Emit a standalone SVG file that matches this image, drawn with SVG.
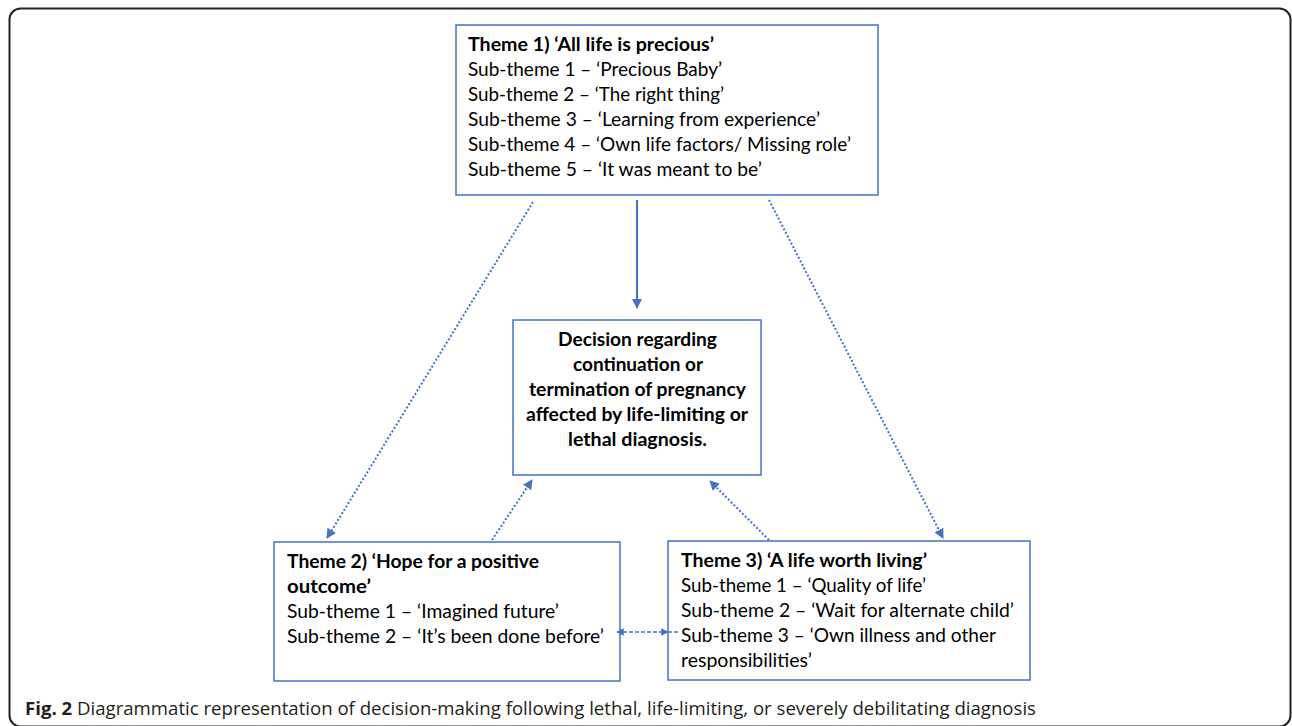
<svg xmlns="http://www.w3.org/2000/svg" width="1292" height="726" viewBox="0 0 1292 726">
<defs>
<style>
.box{fill:#fff;stroke:#4472C4;stroke-width:1.5}
.t{font-family:Lato,"Open Sans",sans-serif;font-size:18.5px;fill:#000}
.b{font-weight:bold}
.c{text-anchor:middle}
.cap{font-family:"Open Sans",sans-serif;font-size:18px;fill:#231f20}
.solid{stroke:#4472C4;stroke-width:2;fill:none}
.dot{stroke:#4472C4;stroke-width:2;fill:none;stroke-dasharray:2 2}
.dash{stroke:#4472C4;stroke-width:1.5;fill:none;stroke-dasharray:4 2}
</style>
<marker id="ah" viewBox="0 0 10 10" refX="9" refY="5" markerWidth="5" markerHeight="5" orient="auto-start-reverse" markerUnits="strokeWidth">
<path d="M0,0 L10,5 L0,10 z" fill="#4472C4"/>
</marker>
</defs>
<rect x="0" y="0" width="1292" height="726" fill="#fff"/>
<rect x="9.5" y="8.5" width="1281" height="718" rx="11" fill="none" stroke="#222" stroke-width="2"/>

<g id="theme1">
<rect class="box" x="456" y="25" width="422" height="170"/>
<text class="t b" x="468" y="51" textLength="246" lengthAdjust="spacingAndGlyphs">Theme 1) ‘All life is precious’</text>
<text class="t" x="468" y="76" textLength="254" lengthAdjust="spacingAndGlyphs">Sub-theme 1 – ‘Precious Baby’</text>
<text class="t" x="468" y="101" textLength="256" lengthAdjust="spacingAndGlyphs">Sub-theme 2 – ‘The right thing’</text>
<text class="t" x="468" y="126" textLength="352" lengthAdjust="spacingAndGlyphs">Sub-theme 3 – ‘Learning from experience’</text>
<text class="t" x="468" y="151" textLength="383" lengthAdjust="spacingAndGlyphs">Sub-theme 4 – ‘Own life factors/ Missing role’</text>
<text class="t" x="468" y="176" textLength="294" lengthAdjust="spacingAndGlyphs">Sub-theme 5 – ‘It was meant to be’</text>
</g>

<g id="decision">
<rect class="box" x="513" y="320" width="248" height="155"/>
<text class="t b c" x="637.5" y="346" textLength="159" lengthAdjust="spacingAndGlyphs">Decision regarding</text>
<text class="t b c" x="638" y="371" textLength="130" lengthAdjust="spacingAndGlyphs">continuation or</text>
<text class="t b c" x="637.5" y="396" textLength="217" lengthAdjust="spacingAndGlyphs">termination of pregnancy</text>
<text class="t b c" x="637" y="421" textLength="222" lengthAdjust="spacingAndGlyphs">affected by life-limiting or</text>
<text class="t b c" x="637.5" y="446" textLength="139" lengthAdjust="spacingAndGlyphs">lethal diagnosis.</text>
</g>

<g id="theme2">
<rect class="box" x="274" y="542" width="346" height="139"/>
<text class="t b" x="287" y="568" textLength="252" lengthAdjust="spacingAndGlyphs">Theme 2) ‘Hope for a positive</text>
<text class="t b" x="287" y="593" textLength="84" lengthAdjust="spacingAndGlyphs">outcome’</text>
<text class="t" x="287" y="618" textLength="272" lengthAdjust="spacingAndGlyphs">Sub-theme 1 – ‘Imagined future’</text>
<text class="t" x="287" y="643" textLength="317" lengthAdjust="spacingAndGlyphs">Sub-theme 2 – ‘It’s been done before’</text>
</g>

<g id="theme3">
<rect class="box" x="668" y="541" width="362" height="139"/>
<text class="t b" x="681" y="567" textLength="246" lengthAdjust="spacingAndGlyphs">Theme 3) ‘A life worth living’</text>
<text class="t" x="681" y="592" textLength="245" lengthAdjust="spacingAndGlyphs">Sub-theme 1 – ‘Quality of life’</text>
<text class="t" x="681" y="617" textLength="333" lengthAdjust="spacingAndGlyphs">Sub-theme 2 – ‘Wait for alternate child’</text>
<text class="t" x="681" y="642" textLength="315" lengthAdjust="spacingAndGlyphs">Sub-theme 3 – ‘Own illness and other</text>
<text class="t" x="681" y="667" textLength="131" lengthAdjust="spacingAndGlyphs">responsibilities’</text>
</g>

<g id="connectors">
<line class="solid" x1="637" y1="200" x2="637" y2="308" marker-end="url(#ah)"/>
<line class="dot" x1="533" y1="202" x2="327" y2="538" marker-end="url(#ah)"/>
<line class="dot" x1="769" y1="200" x2="943" y2="538" marker-end="url(#ah)"/>
<line class="dot" x1="492" y1="540" x2="532" y2="480" marker-end="url(#ah)"/>
<line class="dot" x1="769" y1="540" x2="710" y2="481" marker-end="url(#ah)"/>
<line class="dash" x1="617" y1="632" x2="668" y2="632" marker-start="url(#ah)" marker-end="url(#ah)"/>
<line class="dash" x1="668" y1="632" x2="678" y2="632"/>
</g>

<g id="caption">
<text class="cap" x="25" y="715" textLength="1011" lengthAdjust="spacingAndGlyphs"><tspan font-weight="bold">Fig. 2</tspan> Diagrammatic representation of decision-making following lethal, life-limiting, or severely debilitating diagnosis</text>
</g>
</svg>
